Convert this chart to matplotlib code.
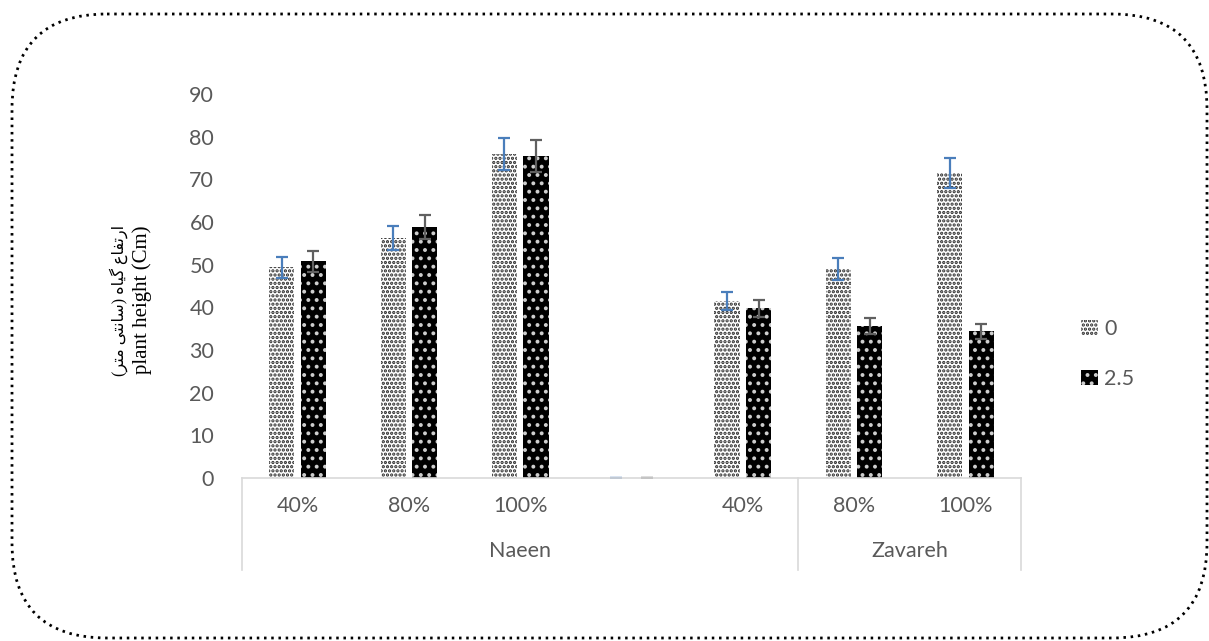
import matplotlib.pyplot as plt
from matplotlib.patches import Patch, FancyBboxPatch
import numpy as np

# plant height by irrigation level, two treatment series
categories = ['40%', '80%', '100%', '', '40%', '80%', '100%']
groups = ['Naeen', 'Zavareh']
group_spans = [(0, 4), (5, 6)]
series_names = ['0', '2.5']
height_0 = [49.4, 56.2, 75.9, 0, 41.5, 49.0, 71.5]
err_0 = [2.5, 2.8, 3.8, 0, 2.1, 2.5, 3.6]
height_25 = [50.8, 58.8, 75.5, 0, 39.8, 35.6, 34.4]
err_25 = [2.5, 2.9, 3.8, 0, 2.0, 1.8, 1.8]

W, H = 1209, 641
fig = plt.figure(figsize=(W / 100, H / 100), dpi=100)

# dotted rounded frame around the whole figure
bg = fig.add_axes([0, 0, 1, 1], zorder=-1)
bg.set_xlim(0, W)
bg.set_ylim(H, 0)
bg.axis('off')
frame = FancyBboxPatch((12, 14), 1195, 624, boxstyle='round,pad=0,rounding_size=95',
                       fill=False, edgecolor='black', linewidth=2.0,
                       linestyle=(0, (0.9, 1.7)))
bg.add_patch(frame)

x0, x1, ytop, ybot = 242, 1021, 94, 478
ax = fig.add_axes([x0 / W, (H - ybot) / H, (x1 - x0) / W, (ybot - ytop) / H])

plt.rcParams['hatch.linewidth'] = 1.6
x = np.arange(len(categories))
bw = 0.225
off = 0.142
gray = '#595959'
tick_font = 'Lato'
fs = 15.5

ax.bar(x - off, height_0, bw, facecolor='white', edgecolor='#2a2a2a',
       hatch='....', linewidth=0)
ax.bar(x + off, height_25, bw, facecolor='black', edgecolor='#cfcfcf',
       hatch='..', linewidth=0)
ax.errorbar(x - off, height_0, yerr=err_0, fmt='none', ecolor='#4a7ebb',
            elinewidth=1.6, capsize=4.5, capthick=1.6)
ax.errorbar(x + off, height_25, yerr=err_25, fmt='none', ecolor='#606060',
            elinewidth=1.6, capsize=4.5, capthick=1.6)

ax.set_xlim(-0.5, len(categories) - 0.5)
ax.set_ylim(0, 90)
ax.set_yticks(np.arange(0, 91, 10))
for s in ['top', 'right', 'left']:
    ax.spines[s].set_visible(False)
ax.spines['bottom'].set_color('#d9d9d9')
ax.spines['bottom'].set_linewidth(1.2)
ax.tick_params(axis='y', length=0, pad=20, labelsize=fs, labelcolor=gray)
ax.set_xticks(x)
ax.set_xticklabels(categories)
ax.tick_params(axis='x', length=0, pad=13, labelsize=fs, labelcolor=gray)
for lbl in ax.get_xticklabels() + ax.get_yticklabels():
    lbl.set_fontfamily(tick_font)

# multi-level category axis: group names and separators
depth = -(570 - ybot) / (ybot - ytop)
trans = ax.get_xaxis_transform()
for (a, b), name in zip(group_spans, groups):
    ax.text((a + b) / 2, -(551 - ybot) / (ybot - ytop), name, transform=trans,
            ha='center', va='center', fontsize=fs, color=gray, family=tick_font)
for xv in [-0.5, 4.5, 6.5]:
    ax.plot([xv, xv], [0, depth], transform=trans, color='#d9d9d9',
            linewidth=1.2, clip_on=False)

# two-line y label, Persian shown in visual order with presentation forms
fa_label = ('(\ufeae\ufe98\ufee3 \ufbfd\ufe98\ufee7\ufe8e\ufeb3) '
            '\ufee9\ufe8e\ufbff\ufb94 \ufec9\ufe8e\ufed4\ufe97\ufead\ufe8d')
fig.text(119 / W, (H - 300) / H, fa_label, rotation=90, ha='center', va='center',
         fontsize=11.5, color='black', family=['Liberation Serif', 'DejaVu Sans'])
fig.text(142 / W, (H - 300) / H, 'plant height (Cm)', rotation=90, ha='center',
         va='center', fontsize=15, color='black', family='Liberation Serif')

handles = [Patch(facecolor='white', edgecolor='#2a2a2a', hatch='....', linewidth=0),
           Patch(facecolor='black', edgecolor='#cfcfcf', hatch='..', linewidth=0)]
leg = fig.legend(handles, series_names, loc='center left',
                 bbox_to_anchor=(1062 / W, (H - 354) / H), frameon=False,
                 handlelength=0.75, handleheight=0.75, handletextpad=0.3,
                 labelspacing=1.4, prop={'family': tick_font, 'size': fs})
for t in leg.get_texts():
    t.set_color(gray)

fig.savefig('out.png', dpi=100)
